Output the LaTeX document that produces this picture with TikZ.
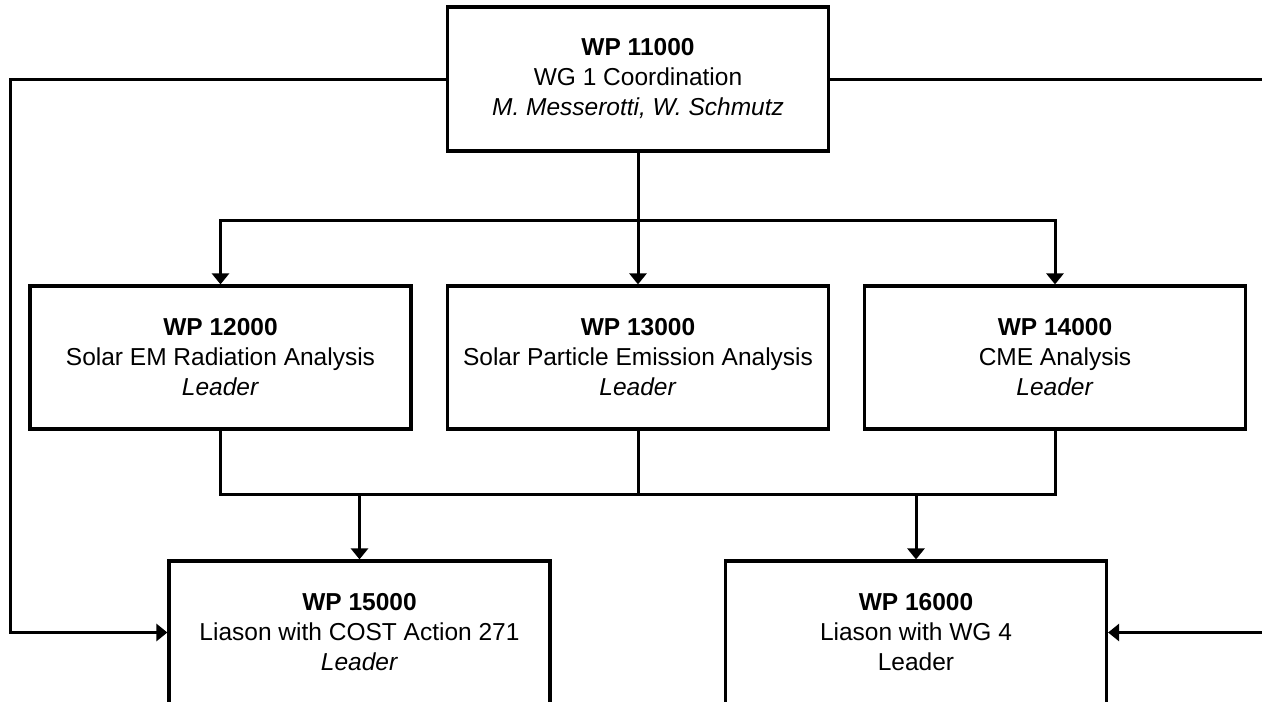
\documentclass[tikz,border=0pt]{standalone}
\usepackage{fontspec}
\setmainfont{Liberation Sans}
\usetikzlibrary{arrows.meta}
\begin{document}
\begin{tikzpicture}[x=1pt,y=-1pt,
  box/.style={draw, line width=3.2pt, minimum width=381pt, minimum height=143pt, inner sep=0pt, align=center, font=\fontsize{24.5}{30}\selectfont},
  conn/.style={line width=3pt},
  arr/.style={conn, -{Triangle[width=17pt,length=11pt]}}]
\useasboundingbox (0,0) rectangle (1262,702);
\clip (0,0) rectangle (1262,702);
\fill[white] (0,0) rectangle (1262,702);
\node[box, minimum height=144pt] (wp11) at (638,79) {\textbf{WP 11000}\\WG 1 Coordination\\\textit{M. Messerotti, W. Schmutz}};
\node[box] (wp12) at (220.5,357.5) {\textbf{WP 12000}\\Solar EM Radiation Analysis\\\textit{Leader}};
\node[box] (wp13) at (638,357.5) {\textbf{WP 13000}\\Solar Particle Emission Analysis\\\textit{Leader}};
\node[box] (wp14) at (1055,357.5) {\textbf{WP 14000}\\CME Analysis\\\textit{Leader}};
\node[box] (wp15) at (359.5,632.5) {\textbf{WP 15000}\\Liason with COST Action 271\\\textit{Leader}};
\node[box] (wp16) at (916,632.5) {\textbf{WP 16000}\\Liason with WG 4\\Leader};
% top split
\coordinate (split) at (638,220);
\draw[conn] (wp11.south) -- (split);
\draw[arr] (split) -| (wp12.north);
\draw[arr] (split) -- (wp13.north);
\draw[arr] (split) -| (wp14.north);
% bottom join
\coordinate (jl) at (220.5,494);
\coordinate (jr) at (1055,494);
\coordinate (jm) at (638,494);
\coordinate (j15) at (359.5,494);
\coordinate (j16) at (916,494);
\draw[conn] (wp12.south) -- (jl) -- (jr) -- (wp14.south);
\draw[conn] (wp13.south) -- (jm);
\draw[arr] (j15) -- (wp15.north);
\draw[arr] (j16) -- (wp16.north);
% side rails
\coordinate (leftrail) at (10,79);
\draw[arr] (wp11.west) -- (leftrail) |- (wp15.west);
\coordinate (righttop) at (1275,79);
\coordinate (rightbot) at (1275,632.5);
\draw[conn] (wp11.east) -- (righttop);
\draw[arr] (rightbot) -- (wp16.east);
\end{tikzpicture}
\end{document}
